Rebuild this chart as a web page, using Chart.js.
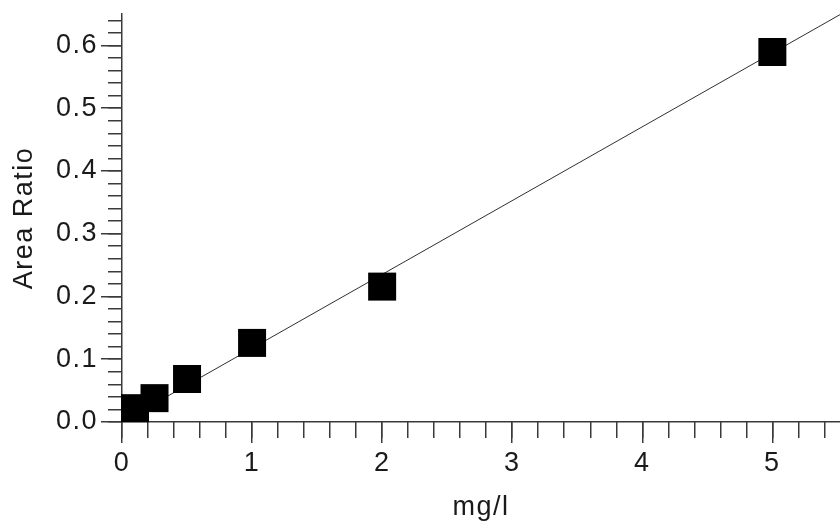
<!DOCTYPE html>
<html>
<head>
<meta charset="utf-8">
<script src="https://cdn.jsdelivr.net/npm/chart.js@4"></script>
<style>
  html, body { margin: 0; padding: 0; background: #fff; }
</style>
</head>
<body>
<canvas id="myChart" width="840" height="527"></canvas>
<script>
// calibration standards (mg/l) and their measured area ratio
const conc = [0.1, 0.25, 0.5, 1, 2, 5];
const areaRatio = [0.022, 0.038, 0.0685, 0.126, 0.2157, 0.5895];

// calibration line, read at both ends of the x axis
const fitX = [0, 5.52];
const fitY = [0, 0.649];

// labelled ticks
const xTicks = [0, 1, 2, 3, 4, 5];
const yTicks = [0.0, 0.1, 0.2, 0.3, 0.4, 0.5, 0.6];

const axisColor = "#3a3a3a";
const textColor = "#1a1a1a";

Chart.defaults.font.family = "'Liberation Sans', Arial, sans-serif";
Chart.defaults.font.size = 27;
Chart.defaults.color = textColor;

// a bit wider text, the reference glyphs are stretched
const spacing = {
  id: "spacing",
  beforeDraw(chart) {
    chart.ctx.letterSpacing = "1.5px";
  },
};

const ctx = document.getElementById("myChart").getContext("2d");
const myChart = new Chart(ctx, {
  type: "scatter",
  data: {
    datasets: [
      {
        label: "standards",
        data: conc.map((c, i) => ({ x: c, y: areaRatio[i] })),
        pointStyle: "rect",
        pointRadius: 19.8,
        pointHoverRadius: 19.8,
        backgroundColor: "#000",
        borderColor: "#000",
        borderWidth: 0,
        clip: false,
        order: 0,
      },
      {
        label: "fit",
        type: "line",
        data: fitX.map((x, i) => ({ x: x, y: fitY[i] })),
        borderColor: "#303030",
        borderWidth: 1,
        pointRadius: 0,
        fill: false,
        order: 1,
      },
    ],
  },
  options: {
    responsive: false,
    animation: false,
    devicePixelRatio: 1,
    layout: { autoPadding: false, padding: { top: 14, right: 0, bottom: 0, left: 0 } },
    plugins: {
      legend: { display: false },
      tooltip: { enabled: false },
    },
    scales: {
      x: {
        type: "linear",
        position: "bottom",
        weight: 1,
        min: 0,
        max: 5.52,
        afterBuildTicks: (s) => {
          s.ticks = xTicks.map((v) => ({ value: v }));
        },
        ticks: {
          padding: 4,
          autoSkip: false,
          maxRotation: 0,
          callback: (v) => String(v),
        },
        grid: {
          drawOnChartArea: false,
          tickLength: 21,
          color: axisColor,
          lineWidth: 1.5,
        },
        border: { display: true, color: axisColor, width: 1.5 },
        title: {
          display: true,
          text: "mg/l",
          color: textColor,
          padding: { top: 0, bottom: 3 },
        },
        afterFit: (s) => {
          s.height = 105;
          s.paddingLeft = 0;
          s.paddingRight = 0;
        },
      },
      xMinor: {
        type: "linear",
        position: "bottom",
        weight: 0,
        min: 0,
        max: 5.52,
        ticks: { display: false, stepSize: 0.2, includeBounds: false },
        grid: {
          drawOnChartArea: false,
          tickLength: 16,
          color: axisColor,
          lineWidth: 1.5,
        },
        border: { display: false },
        afterFit: (s) => {
          s.height = 0;
          s.paddingLeft = 0;
          s.paddingRight = 0;
        },
      },
      y: {
        type: "linear",
        position: "left",
        weight: 1,
        min: 0,
        max: 0.65,
        afterBuildTicks: (s) => {
          s.ticks = yTicks.map((v) => ({ value: v }));
        },
        ticks: {
          padding: 3,
          autoSkip: false,
          callback: (v) => v.toFixed(1),
        },
        grid: {
          drawOnChartArea: false,
          tickLength: 21,
          color: axisColor,
          lineWidth: 1.5,
        },
        border: { display: true, color: axisColor, width: 1.5 },
        title: {
          display: true,
          text: "Area Ratio",
          color: textColor,
          padding: { top: 8, bottom: 0 },
        },
        afterFit: (s) => {
          s.width = 122;
          s.paddingTop = 0;
          s.paddingBottom = 0;
        },
      },
      yMinor: {
        type: "linear",
        position: "left",
        weight: 0,
        min: 0,
        max: 0.65,
        ticks: { display: false, stepSize: 0.02, includeBounds: false },
        grid: {
          drawOnChartArea: false,
          tickLength: 14,
          color: axisColor,
          lineWidth: 1.5,
        },
        border: { display: false },
        afterFit: (s) => {
          s.width = 0;
          s.paddingTop = 0;
          s.paddingBottom = 0;
        },
      },
    },
  },
  plugins: [spacing],
});
</script>
</body>
</html>
